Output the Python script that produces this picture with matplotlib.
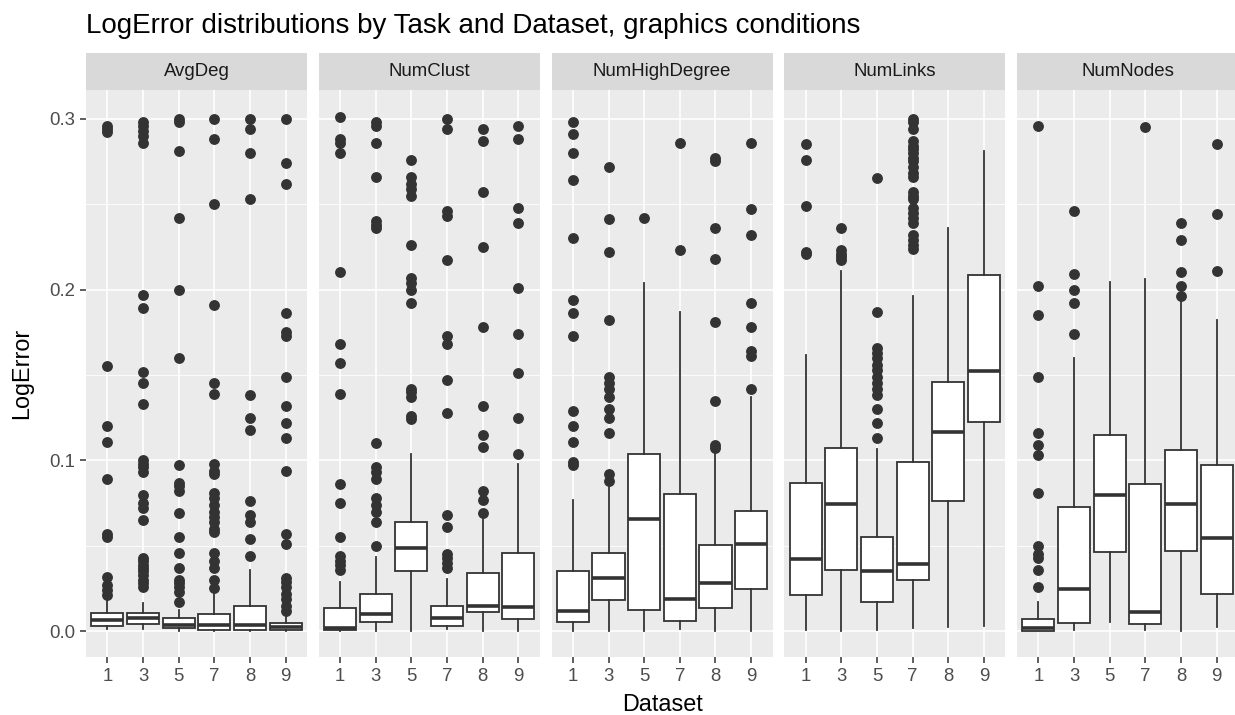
# Imports
import matplotlib
matplotlib.use("Agg")
import matplotlib.pyplot as plt

# Facets and categories
tasks = ["AvgDeg", "NumClust", "NumHighDegree", "NumLinks", "NumNodes"]
datasets = ["1", "3", "5", "7", "8", "9"]

# Box statistics (one row per task, one value per dataset)
medians = [
    [0.0067, 0.0078, 0.0038, 0.0038, 0.0038, 0.0022],
    [0.0018, 0.0100, 0.0486, 0.0078, 0.0145, 0.0140],
    [0.0116, 0.0312, 0.0658, 0.0190, 0.0283, 0.0509],
    [0.0424, 0.0747, 0.0350, 0.0395, 0.1167, 0.1524],
    [0.0016, 0.0245, 0.0799, 0.0112, 0.0747, 0.0547],
]
q1s = [
    [0.0029, 0.0045, 0.0016, 0.0007, 0.0007, 0.0007],
    [0.0007, 0.0051, 0.0350, 0.0029, 0.0112, 0.0074],
    [0.0051, 0.0185, 0.0123, 0.0060, 0.0138, 0.0245],
    [0.0212, 0.0361, 0.0172, 0.0297, 0.0765, 0.1227],
    [0.0000, 0.0047, 0.0462, 0.0045, 0.0468, 0.0216],
]
q3s = [
    [0.0105, 0.0105, 0.0078, 0.0100, 0.0145, 0.0049],
    [0.0134, 0.0216, 0.0642, 0.0149, 0.0339, 0.0457],
    [0.0350, 0.0457, 0.1037, 0.0803, 0.0502, 0.0703],
    [0.0870, 0.1071, 0.0551, 0.0988, 0.1461, 0.2086],
    [0.0074, 0.0725, 0.1149, 0.0863, 0.1060, 0.0970],
]
whisker_low = [
    [0.0010, 0.0010, 0.0004, 0.0000, 0.0000, 0.0000],
    [0.0000, 0.0004, 0.0000, 0.0010, 0.0000, 0.0000],
    [0.0004, 0.0000, 0.0000, 0.0010, 0.0000, 0.0000],
    [0.0007, 0.0000, 0.0007, 0.0016, 0.0022, 0.0033],
    [0.0000, 0.0007, 0.0051, 0.0007, 0.0000, 0.0022],
]
whisker_high = [
    [0.0190, 0.0167, 0.0123, 0.0234, 0.0357, 0.0089],
    [0.0290, 0.0435, 0.1037, 0.0306, 0.0703, 0.0980],
    [0.0770, 0.0886, 0.2041, 0.1867, 0.1082, 0.1372],
    [0.1617, 0.2108, 0.1064, 0.1963, 0.2358, 0.2811],
    [0.0172, 0.1600, 0.2046, 0.2063, 0.1956, 0.1822],
]

# Outliers per task and dataset
outliers = [
    [
        [0.296, 0.294, 0.292, 0.155, 0.120, 0.111, 0.089, 0.057, 0.055, 0.032, 0.027, 0.024, 0.021],
        [0.298, 0.296, 0.293, 0.290, 0.286, 0.197, 0.189, 0.152, 0.145, 0.133, 0.100, 0.098, 0.096,
         0.093, 0.080, 0.075, 0.072, 0.065, 0.043, 0.041, 0.039, 0.037, 0.035, 0.033, 0.030, 0.028, 0.026],
        [0.300, 0.298, 0.281, 0.242, 0.200, 0.160, 0.097, 0.087, 0.085, 0.082, 0.069, 0.055, 0.046,
         0.037, 0.030, 0.028, 0.026, 0.023, 0.017],
        [0.300, 0.288, 0.250, 0.191, 0.145, 0.139, 0.098, 0.094, 0.092, 0.081, 0.078, 0.074, 0.070,
         0.067, 0.064, 0.060, 0.058, 0.046, 0.041, 0.037, 0.030, 0.025],
        [0.300, 0.294, 0.280, 0.253, 0.138, 0.125, 0.118, 0.076, 0.068, 0.064, 0.054, 0.044],
        [0.300, 0.274, 0.262, 0.186, 0.175, 0.173, 0.149, 0.132, 0.122, 0.113, 0.094, 0.057, 0.051,
         0.031, 0.029, 0.026, 0.022, 0.019, 0.015, 0.012],
    ],
    [
        [0.301, 0.288, 0.286, 0.280, 0.210, 0.168, 0.157, 0.139, 0.086, 0.075, 0.055, 0.044, 0.041,
         0.039, 0.036],
        [0.298, 0.296, 0.286, 0.266, 0.240, 0.238, 0.236, 0.110, 0.096, 0.093, 0.089, 0.078, 0.074,
         0.070, 0.064, 0.050],
        [0.276, 0.266, 0.262, 0.259, 0.255, 0.226, 0.207, 0.204, 0.200, 0.192, 0.142, 0.140, 0.137,
         0.126, 0.124],
        [0.300, 0.294, 0.246, 0.243, 0.217, 0.173, 0.168, 0.147, 0.128, 0.068, 0.061, 0.045, 0.043,
         0.040, 0.037],
        [0.294, 0.287, 0.257, 0.225, 0.178, 0.132, 0.115, 0.108, 0.082, 0.077, 0.069],
        [0.296, 0.288, 0.248, 0.239, 0.201, 0.174, 0.151, 0.125, 0.104],
    ],
    [
        [0.298, 0.291, 0.280, 0.264, 0.230, 0.194, 0.186, 0.173, 0.129, 0.120, 0.111, 0.099, 0.097],
        [0.272, 0.241, 0.222, 0.182, 0.149, 0.145, 0.142, 0.137, 0.130, 0.125, 0.116, 0.092, 0.088],
        [0.242],
        [0.286, 0.223],
        [0.277, 0.275, 0.236, 0.218, 0.181, 0.135, 0.109, 0.107],
        [0.286, 0.247, 0.232, 0.192, 0.178, 0.164, 0.161, 0.142],
    ],
    [
        [0.285, 0.276, 0.249, 0.222, 0.221],
        [0.236, 0.223, 0.221, 0.219, 0.217],
        [0.265, 0.187, 0.166, 0.163, 0.160, 0.156, 0.153, 0.149, 0.145, 0.142, 0.138, 0.130, 0.122,
         0.113],
        [0.300, 0.298, 0.294, 0.287, 0.284, 0.282, 0.280, 0.277, 0.275, 0.272, 0.268, 0.266, 0.257,
         0.255, 0.253, 0.248, 0.245, 0.242, 0.239, 0.232, 0.229, 0.226, 0.224],
        [],
        [],
    ],
    [
        [0.296, 0.202, 0.185, 0.149, 0.116, 0.109, 0.103, 0.081, 0.050, 0.045, 0.043, 0.036, 0.026],
        [0.246, 0.209, 0.200, 0.192, 0.174],
        [],
        [0.295],
        [0.239, 0.229, 0.210, 0.202, 0.196],
        [0.285, 0.244, 0.211],
    ],
]

# Axis ticks
y_ticks = [0.0, 0.1, 0.2, 0.3]
y_minor = [0.05, 0.15, 0.25]


# Define the main function
def main():
    # Fonts and colours in the ggplot2 grey theme
    plt.rcParams["font.family"] = ["Liberation Sans", "DejaVu Sans"]
    panel_bg = "#EBEBEB"
    strip_bg = "#D9D9D9"
    dark = "#333333"

    # Figure size in pixels
    W, H = 1235, 715
    fig = plt.figure(figsize=(W / 100, H / 100), dpi=100)

    # Panel geometry in pixels
    left0 = 86
    panel_w = 221
    step = 232.75
    top = 90
    bottom = 657
    strip_h = 37

    for t, task in enumerate(tasks):
        x0 = left0 + t * step

        # Create the panel
        ax = fig.add_axes([x0 / W, (H - bottom) / H, panel_w / W, (bottom - top) / H])
        ax.set_facecolor(panel_bg)
        ax.set_axisbelow(True)
        for side in ax.spines.values():
            side.set_visible(False)

        # Build the box statistics
        stats = []
        for d in range(len(datasets)):
            stats.append({
                "med": medians[t][d],
                "q1": q1s[t][d],
                "q3": q3s[t][d],
                "whislo": whisker_low[t][d],
                "whishi": whisker_high[t][d],
                "fliers": outliers[t][d],
            })
        positions = list(range(1, len(datasets) + 1))

        # Draw the boxes
        ax.bxp(
            stats,
            positions=positions,
            widths=0.9,
            showcaps=False,
            patch_artist=True,
            boxprops=dict(facecolor="white", edgecolor=dark, linewidth=1.3),
            whiskerprops=dict(color=dark, linewidth=1.3),
            medianprops=dict(color=dark, linewidth=2.6, solid_capstyle="butt"),
            flierprops=dict(marker="o", markerfacecolor=dark, markeredgecolor=dark,
                            markersize=6.8, linestyle="none"),
        )

        # Set the limits
        ax.set_xlim(0.4, len(datasets) + 0.6)
        ax.set_ylim(-0.0151, 0.3168)

        # Grid lines
        ax.set_yticks(y_ticks)
        ax.set_yticks(y_minor, minor=True)
        ax.set_xticks(positions)
        ax.grid(True, which="major", color="white", linewidth=1.2)
        ax.grid(True, which="minor", axis="y", color="white", linewidth=0.6)

        # Tick labels
        ax.set_xticklabels(datasets)
        ax.tick_params(axis="both", which="major", length=4.2, width=1.1, color=dark,
                       labelsize=13.4, labelcolor="#4D4D4D", pad=3.6)
        ax.tick_params(axis="both", which="minor", length=0)
        if t == 0:
            ax.set_yticklabels([f"{v:.1f}" for v in y_ticks])
        else:
            ax.tick_params(axis="y", which="major", length=0, labelleft=False)

        # Strip with the task name
        sax = fig.add_axes([x0 / W, (H - top) / H, panel_w / W, strip_h / H])
        sax.set_facecolor(strip_bg)
        sax.set_xticks([])
        sax.set_yticks([])
        for side in sax.spines.values():
            side.set_visible(False)
        sax.text(0.5, 0.5, task, ha="center", va="center", fontsize=13.4,
                 color="#1A1A1A", transform=sax.transAxes)

    # Set the title and axis labels
    fig.text(86 / W, 1 - 33 / H, "LogError distributions by Task and Dataset, graphics conditions",
             fontsize=20, color="black", ha="left", va="baseline")
    fig.text(662 / W, 1 - 711 / H, "Dataset", fontsize=16.8, color="black",
             ha="center", va="baseline")
    fig.text(22 / W, 1 - 373.5 / H, "LogError", fontsize=16.8, color="black",
             ha="center", va="center", rotation=90)

    # Save the plot
    fig.savefig("out.png", dpi=100, facecolor="white")


# Run the main function
if __name__ == "__main__":
    main()
